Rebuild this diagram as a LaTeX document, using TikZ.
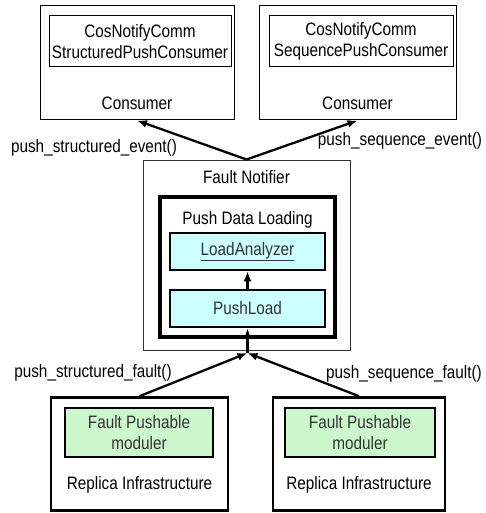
\documentclass[tikz,border=0pt]{standalone}
\usepackage{fontspec}
\setmainfont{Liberation Sans}[FakeStretch=0.85]
\usepackage{tikz}
\usetikzlibrary{positioning,arrows.meta,calc}
\definecolor{loadcyan}{HTML}{CCFFFF}
\definecolor{modgreen}{HTML}{CCF7CC}
\definecolor{boxgray}{HTML}{333333}

\begin{document}
\begin{tikzpicture}[x=1pt,y=-1pt,>={Latex[length=10pt,width=8pt]},
    every node/.style={font=\fontsize{18}{21}\selectfont,inner sep=0pt,align=center},
    thinbox/.style={draw,line width=1pt,minimum width=#1},
    thickbox/.style={draw,line width=2.6pt,minimum width=#1},
    call/.style={->,line width=2.3pt}]
        \useasboundingbox (0,0) rectangle (485,513);
        % consumers on top
        \node[thinbox=194pt,minimum height=114pt] (cons1) at (137,63) {};
        \node[thinbox=182pt,minimum height=51pt] (cif1) at (140,41.5) {CosNotifyComm\\StructuredPushConsumer};
        \node (ctxt1) at (137,103) {Consumer};
        \node[thinbox=197pt,minimum height=114pt] (cons2) at (357.5,63) {};
        \node[thinbox=184pt,minimum height=51pt] (cif2) at (361,41.5) {CosNotifyComm\\SequencePushConsumer};
        \node (ctxt2) at (357.5,103) {Consumer};
        % fault notifier
        \node[thinbox=207pt,draw=boxgray,minimum height=190pt] (fn) at (246.5,255) {};
        \node (fntxt) at (246.5,177) {Fault Notifier};
        \node[draw,line width=3.2pt,minimum width=175pt,minimum height=140pt] (pdl) at (247.5,267) {};
        \node (pdltxt) at (247.5,220) {Push Data Loading};
        \node[thickbox=155pt,minimum height=37pt,fill=loadcyan,text=boxgray] (la) at (247.5,251.5) {\underline{LoadAnalyzer}};
        \node[thickbox=155pt,minimum height=37pt,fill=loadcyan,text=boxgray] (pl) at (247.5,308.5) {PushLoad};
        \coordinate (join) at (247.5,353);
        % replicas at the bottom
        \node[thickbox=177pt,minimum height=113pt] (rep1) at (139.5,454) {};
        \node[thickbox=148pt,minimum height=49pt,fill=modgreen,text=boxgray] (mod1) at (139,432.5) {Fault Pushable\\moduler};
        \node (rtxt1) at (139.5,485) {Replica Infrastructure};
        \node[thickbox=172pt,minimum height=113pt] (rep2) at (359,454) {};
        \node[thickbox=150pt,minimum height=49pt,fill=modgreen,text=boxgray] (mod2) at (360,432.5) {Fault Pushable\\moduler};
        \node (rtxt2) at (359,485) {Replica Infrastructure};
        % calls
        \draw[call] (fn.north) -- (cons1.south);
        \draw[call] (fn.north) -- (cons2.south);
        \draw[call] (pl) -- (la);
        \draw[call] (join) -- (pl);
        \draw[call] (rep1.north) -- (join);
        \draw[call] (rep2.north) -- (join);
        \node (lse) at (94,148) {push\_structured\_event()};
        \node (lqe) at (400,141) {push\_sequence\_event()};
        \node (lsf) at (93,373) {push\_structured\_fault()};
        \node (lqf) at (404,374) {push\_sequence\_fault()};
      \end{tikzpicture}
\end{document}
